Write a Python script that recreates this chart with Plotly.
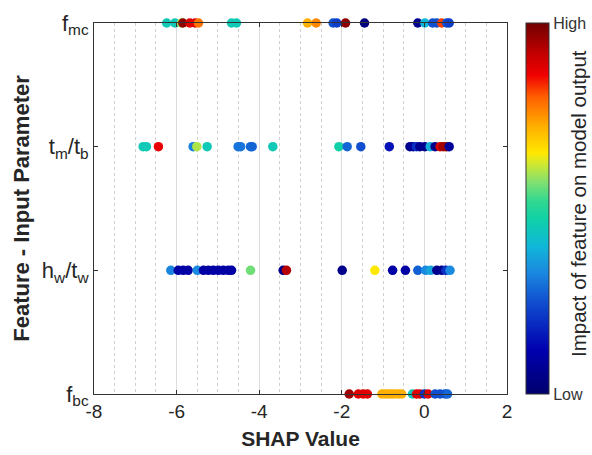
import plotly.graph_objects as go

features = ["f<sub>bc</sub>", "h<sub>w</sub>/t<sub>w</sub>", "t<sub>m</sub>/t<sub>b</sub>", "f<sub>mc</sub>"]

fmc_shap = [-6.24, -6.04, -5.88, -5.85, -5.68, -5.55, -5.47, -4.67, -4.55, -2.83, -2.62,
            -2.21, -2.12, -1.91, -1.45, -0.16, 0.01, 0.20, 0.30, 0.42, 0.54, 0.60]
fmc_impact = [0.45, 0.45, 0.60, 0.97, 0.88, 0.88, 0.78, 0.45, 0.45, 0.72, 0.76,
              0.25, 0.22, 0.97, 0.03, 0.05, 0.40, 0.25, 0.25, 0.82, 0.25, 0.22]

tmtb_shap = [-6.81, -6.73, -6.44, -5.60, -5.51, -5.26, -4.51, -4.45, -4.21, -4.17, -3.67,
             -2.07, -1.87, -1.54, -0.85, -0.35, -0.27, -0.19, -0.11, 0.01, 0.14, 0.26,
             0.38, 0.46, 0.54, 0.60]
tmtb_impact = [0.45, 0.45, 0.87, 0.32, 0.60, 0.45, 0.30, 0.30, 0.28, 0.28, 0.45,
               0.47, 0.28, 0.25, 0.15, 0.05, 0.08, 0.20, 0.06, 0.06, 0.38, 0.05,
               0.90, 0.95, 0.95, 0.08]

hwtw_shap = [-6.14, -5.96, -5.84, -5.72, -5.50, -5.35, -5.23, -5.11, -4.99, -4.87, -4.75,
             -4.67, -4.21, -3.42, -3.34, -1.99, -1.20, -0.77, -0.46, -0.16, 0.03, 0.15,
             0.30, 0.42, 0.52, 0.62]
hwtw_impact = [0.32, 0.10, 0.10, 0.10, 0.33, 0.10, 0.10, 0.10, 0.10, 0.10, 0.10,
               0.10, 0.56, 0.05, 0.93, 0.05, 0.65, 0.10, 0.10, 0.27, 0.33, 0.37,
               0.06, 0.06, 0.20, 0.33]

fbc_shap = [-1.82, -1.60, -1.48, -1.38, -1.03, -0.95, -0.87, -0.79, -0.72, -0.63, -0.55,
            -0.29, -0.19, -0.11, 0.00, 0.09, 0.26, 0.38, 0.50, 0.56]
fbc_impact = [0.95, 0.88, 0.88, 0.88, 0.72, 0.72, 0.72, 0.72, 0.72, 0.72, 0.72,
              0.45, 0.88, 0.88, 0.20, 0.88, 0.25, 0.25, 0.25, 0.28]

x_ticks = [-8, -6, -4, -2, 0, 2]
x_tick_labels = ["-8", "-6", "-4", "-2", "0", "2"]
colorbar_labels = ["Low", "High"]

colorscale = [
    [0.0, "#00006e"], [0.12, "#0000b0"], [0.25, "#1050d0"], [0.33, "#1a8ae0"],
    [0.40, "#10b8d8"], [0.47, "#10d0a8"], [0.52, "#30d890"], [0.57, "#80e070"],
    [0.62, "#d0e830"], [0.65, "#ffe800"], [0.72, "#ffb000"], [0.80, "#ff6000"],
    [0.86, "#f00000"], [0.92, "#c00000"], [1.0, "#700000"],
]

FONT = "Liberation Sans, Arial, sans-serif"
TXT = "#262626"

L, R, T, B = 94, 507, 23, 394
W, H = 592, 455
PW = R - L

rows = [(fbc_shap, fbc_impact, 0), (hwtw_shap, hwtw_impact, 1),
        (tmtb_shap, tmtb_impact, 2), (fmc_shap, fmc_impact, 3)]

fig = go.Figure()
for i, (xs, cs, yi) in enumerate(rows):
    fig.add_trace(go.Scatter(
        x=xs, y=[yi] * len(xs), mode="markers", cliponaxis=False, showlegend=False,
        hoverinfo="x",
        marker=dict(size=9.5, color=cs, colorscale=colorscale, cmin=0, cmax=1,
                    line=dict(width=0), opacity=1,
                    showscale=(i == 0),
                    colorbar=dict(
                        x=(526 - L) / PW, xanchor="left", xref="paper", xpad=0, ypad=0,
                        y=0, yanchor="bottom", yref="paper", len=1, lenmode="fraction",
                        thickness=23, outlinewidth=1, outlinecolor="#333333",
                        tickvals=[0, 1], ticktext=colorbar_labels, ticks="",
                        tickfont=dict(family=FONT, size=16, color="#333333"),
                        title=dict(text=""),
                    )),
    ))

fig.add_annotation(
    text="Impact of feature on model output", textangle=-90,
    xref="paper", yref="paper", x=(579 - L) / PW, y=(B - 204) / (B - T),
    xanchor="center", yanchor="middle", showarrow=False,
    font=dict(family=FONT, size=20.5, color=TXT),
)

fig.update_layout(
    width=W, height=H,
    margin=dict(l=L, r=W - R, t=T, b=H - B, autoexpand=False),
    paper_bgcolor="white", plot_bgcolor="white",
    font=dict(family=FONT, color=TXT),
    xaxis=dict(
        range=[-8, 2], tickvals=x_ticks, ticktext=x_tick_labels,
        ticks="inside", ticklen=4, tickcolor="#333333",
        showline=True, linecolor="#333333", linewidth=1, mirror="ticks",
        showgrid=True, gridcolor="#dcdcdc", gridwidth=1, zeroline=False,
        minor=dict(dtick=0.5, showgrid=True, gridcolor="#cfcfcf", griddash="dot", ticks=""),
        tickfont=dict(family=FONT, size=19, color=TXT),
        title=dict(text="<b>SHAP Value</b>", standoff=10,
                   font=dict(family=FONT, size=21, color=TXT)),
    ),
    yaxis=dict(
        range=[0, 3], tickvals=[0, 1, 2, 3], ticktext=features,
        ticks="inside", ticklen=4, tickcolor="#333333",
        showline=True, linecolor="#333333", linewidth=1, mirror="ticks",
        showgrid=False, zeroline=False,
        tickfont=dict(family=FONT, size=22, color=TXT),
        title=dict(text="<b>Feature - Input Parameter</b>", standoff=6,
                   font=dict(family=FONT, size=22, color=TXT)),
    ),
)

fig.write_html("out.html")
